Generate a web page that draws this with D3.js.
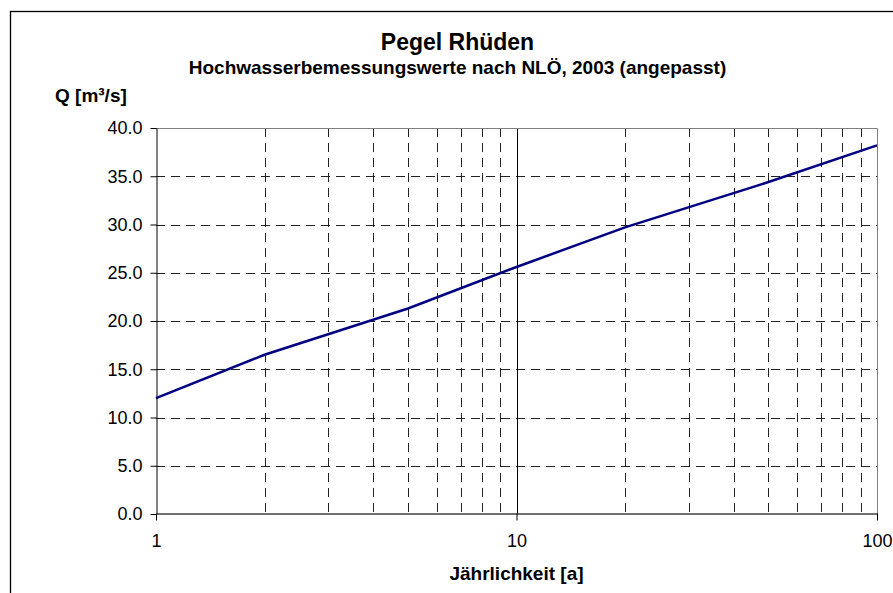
<!DOCTYPE html>
<html>
<head>
<meta charset="utf-8">
<script src="https://cdn.jsdelivr.net/npm/d3@7"></script>
<style>
    body { margin: 0; background: #fff; }
    svg { display: block; font-family: Arial, "Liberation Sans", sans-serif; }
</style>
</head>
<body>
<svg id="chart" width="893" height="593"></svg>
<script>
// Jährlichkeit T [a] und Abfluss Q [m³/s]
const years = [1, 2, 5, 10, 20, 50, 100];
const discharge = [12.0, 16.5, 21.3, 25.6, 29.7, 34.4, 38.2];
const yTicks = [0, 5, 10, 15, 20, 25, 30, 35, 40];
const xLabels = [1, 10, 100];
const xMinor = [2, 3, 4, 5, 6, 7, 8, 9, 20, 30, 40, 50, 60, 70, 80, 90];

const svg = d3.select("#chart");
const margin = { left: 156, right: 877, top: 128, bottom: 514 };
const lineColor = "#000080";
const gridColor = "#222";

const x = d3.scaleLog().domain([1, 100]).range([margin.left, margin.right]);
const y = d3.scaleLinear().domain([0, 40]).range([margin.bottom, margin.top]);

// outer chart border (clipped by the window on the right and bottom)
svg.append("rect")
    .attr("x", 10.5).attr("y", 11.5)
    .attr("width", 1000).attr("height", 1000)
    .attr("fill", "none")
    .attr("stroke", "black")
    .attr("stroke-width", 1.3);

// horizontal grid
svg.append("g")
    .selectAll("line")
    .data(yTicks.filter(d => d > 0 && d < 40))
    .join("line")
    .attr("x1", margin.left).attr("x2", margin.right)
    .attr("y1", d => Math.round(y(d)) + 0.5).attr("y2", d => Math.round(y(d)) + 0.5)
    .attr("stroke", gridColor)
    .attr("stroke-dasharray", "9,6");

// vertical grid at minor log steps
svg.append("g")
    .selectAll("line")
    .data(xMinor)
    .join("line")
    .attr("x1", d => Math.round(x(d)) + 0.5).attr("x2", d => Math.round(x(d)) + 0.5)
    .attr("y1", margin.top).attr("y2", margin.bottom)
    .attr("stroke", gridColor)
    .attr("stroke-dasharray", "9,6");

// solid major line at 10
svg.append("line")
    .attr("x1", Math.round(x(10)) + 0.5).attr("x2", Math.round(x(10)) + 0.5)
    .attr("y1", margin.top).attr("y2", margin.bottom)
    .attr("stroke", "black");

// plot area border top / right
svg.append("path")
    .attr("d", `M${margin.left},${margin.top + 0.5}H${margin.right + 0.5}V${margin.bottom}`)
    .attr("fill", "none")
    .attr("stroke", "#808080");

// y axis
const yAxis = svg.append("g")
    .attr("transform", `translate(${margin.left + 0.5},0)`)
    .call(d3.axisLeft(y).tickValues(yTicks).tickFormat(d3.format(".1f")).tickSize(6).tickSizeOuter(0).tickPadding(8));
yAxis.select(".domain").attr("stroke", "black");
yAxis.selectAll(".tick line").attr("stroke", "black");
yAxis.selectAll(".tick text")
    .attr("font-size", 18)
    .attr("font-family", "Arial, 'Liberation Sans', sans-serif")
    .attr("fill", "black");

// x axis
const xAxis = svg.append("g")
    .attr("transform", `translate(0,${margin.bottom - 0.5})`)
    .call(d3.axisBottom(x).tickValues(xLabels).tickFormat(d3.format("d")).tickSize(7).tickSizeOuter(0).tickPadding(14));
xAxis.select(".domain").attr("stroke", "#404040").attr("stroke-width", 1.5);
xAxis.selectAll(".tick line").attr("stroke", "black");
xAxis.selectAll(".tick text")
    .attr("font-size", 18)
    .attr("font-family", "Arial, 'Liberation Sans', sans-serif")
    .attr("fill", "black");

// data line
const line = d3.line()
    .x((d, i) => x(years[i]))
    .y(d => y(d));
svg.append("path")
    .datum(discharge)
    .attr("d", line)
    .attr("fill", "none")
    .attr("stroke", lineColor)
    .attr("stroke-width", 2.5);

// titles
svg.append("text")
    .attr("x", 457.5).attr("y", 50)
    .attr("text-anchor", "middle")
    .attr("font-size", 23).attr("font-weight", "bold")
    .text("Pegel Rhüden");
svg.append("text")
    .attr("x", 457.5).attr("y", 74)
    .attr("text-anchor", "middle")
    .attr("font-size", 19).attr("font-weight", "bold")
    .text("Hochwasserbemessungswerte nach NLÖ, 2003 (angepasst)");
svg.append("text")
    .attr("x", 55).attr("y", 102)
    .attr("font-size", 19).attr("font-weight", "bold")
    .text("Q [m³/s]");
svg.append("text")
    .attr("x", (margin.left + margin.right) / 2).attr("y", 580)
    .attr("text-anchor", "middle")
    .attr("font-size", 19).attr("font-weight", "bold")
    .text("Jährlichkeit [a]");
</script>
</body>
</html>
